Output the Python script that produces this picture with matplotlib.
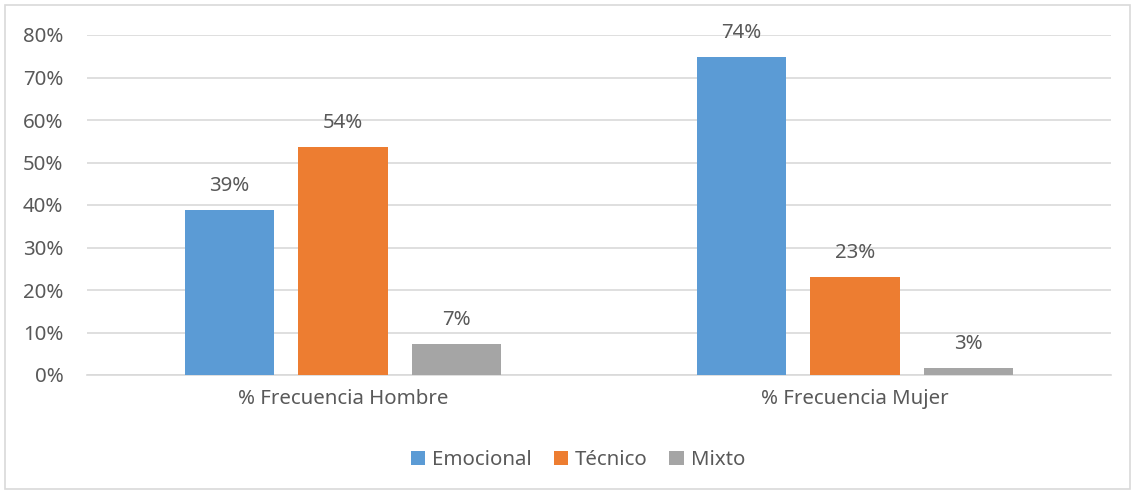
import numpy as np
import matplotlib.pyplot as plt
from matplotlib.patches import Rectangle

plt.rcParams['font.family'] = ['Noto Sans', 'DejaVu Sans']

# Data
categories = ['% Frecuencia Hombre', '% Frecuencia Mujer']
series = ['Emocional', 'Técnico', 'Mixto']
emocional = [38.8, 74.8]
tecnico = [53.6, 23.1]
mixto = [7.3, 1.6]
labels_emocional = ['39%', '74%']
labels_tecnico = ['54%', '23%']
labels_mixto = ['7%', '3%']

colors = ['#5B9BD5', '#ED7D31', '#A5A5A5']
text_color = '#595959'
grid_color = '#D9D9D9'
fs = 14.7

fig = plt.figure(figsize=(11.34, 4.92), dpi=100)
ax = fig.add_axes([87 / 1134, 1 - 375 / 492, (1111 - 87) / 1134, (375 - 35) / 492])

# outer chart border
fig.patches.append(Rectangle((5 / 1134, 3 / 492), 1125 / 1134, 484 / 492,
                             transform=fig.transFigure, fill=False,
                             edgecolor=grid_color, linewidth=1.2))

x = np.arange(len(categories))
offset = 0.2217
width = 0.174
all_vals = [emocional, tecnico, mixto]
all_labels = [labels_emocional, labels_tecnico, labels_mixto]

for i, (vals, labs, name, col) in enumerate(zip(all_vals, all_labels, series, colors)):
    bars = ax.bar(x + (i - 1) * offset, vals, width, color=col, label=name, zorder=3)
    for bar, lab in zip(bars, labs):
        ax.annotate(lab, (bar.get_x() + bar.get_width() / 2, bar.get_height()),
                    xytext=(0, 10), textcoords='offset points',
                    ha='center', va='bottom', fontsize=fs, color=text_color)

ax.set_xlim(-0.5, 1.5)
ax.set_ylim(0, 80)
ax.set_yticks(np.arange(0, 81, 10))
ax.set_yticklabels([f'{v}%' for v in range(0, 81, 10)])
ax.set_xticks(x)
ax.set_xticklabels(categories)
ax.tick_params(axis='both', length=0, labelsize=fs, labelcolor=text_color)
ax.tick_params(axis='y', pad=17)
ax.tick_params(axis='x', pad=10)
ax.grid(axis='y', color=grid_color, linewidth=1.2, zorder=0)
for s in ['top', 'right', 'left']:
    ax.spines[s].set_visible(False)
ax.spines['bottom'].set_color(grid_color)
ax.spines['bottom'].set_linewidth(1.2)

leg = fig.legend(loc='center', bbox_to_anchor=(578 / 1134, 1 - 460 / 492), ncol=3,
                 frameon=False, fontsize=fs, handlelength=0.7, handleheight=0.7,
                 handletextpad=0.35, columnspacing=1.05)
for t in leg.get_texts():
    t.set_color(text_color)

fig.savefig('out.png', dpi=100)
